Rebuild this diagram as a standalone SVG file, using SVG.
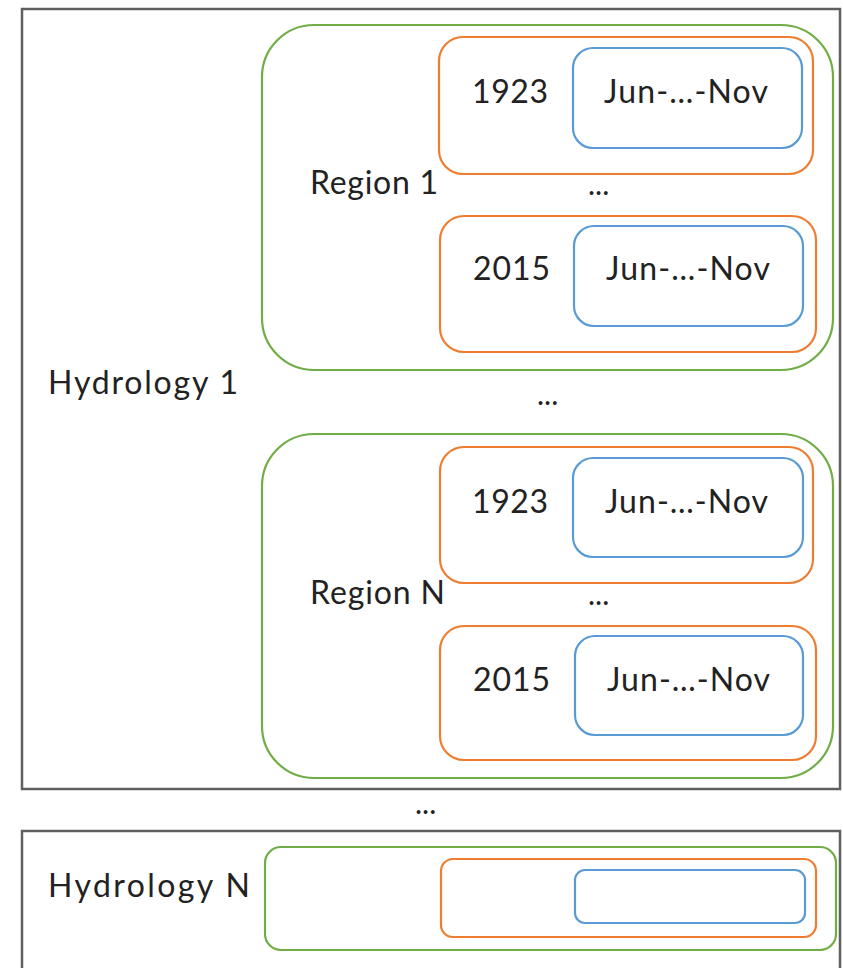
<svg xmlns="http://www.w3.org/2000/svg" width="843" height="968" viewBox="0 0 843 968">
  <style>
    .hydro { fill: #ffffff; stroke: #606060; stroke-width: 2.5; }
    .region { fill: none; stroke: #70ad47; stroke-width: 2.2; }
    .year { fill: none; stroke: #ed7d31; stroke-width: 2.2; }
    .season { fill: none; stroke: #5b9bd5; stroke-width: 2.2; }
    text { font-family: Lato, "Open Sans", "Liberation Sans", sans-serif; font-size: 32px; fill: #222222; }
    .dots { font-size: 30px; }
  </style>

  <!-- Hydrology 1 -->
  <g id="hydrology-1">
    <rect class="hydro" x="22" y="9" width="818" height="780"/>
    <text x="48" y="394" textLength="190">Hydrology 1</text>
  </g>

  <!-- Region 1 -->
  <g id="region-1">
    <rect class="region" x="262" y="25" width="571" height="345" rx="52" ry="52"/>
    <text x="310" y="194" textLength="128">Region 1</text>
    <text class="dots" x="588" y="195">...</text>
  </g>
  <g id="r1-year-1923">
    <rect class="year" x="439" y="37" width="374" height="137" rx="24" ry="24"/>
    <text x="472" y="103" textLength="76">1923</text>
  </g>
  <g id="r1-1923-season">
    <rect class="season" x="573" y="48" width="229" height="100" rx="20" ry="20"/>
    <text x="604" y="103" textLength="164">Jun-…-Nov</text>
  </g>
  <g id="r1-year-2015">
    <rect class="year" x="440" y="216" width="376" height="136" rx="24" ry="24"/>
    <text x="473" y="280" textLength="77">2015</text>
  </g>
  <g id="r1-2015-season">
    <rect class="season" x="574" y="226" width="229" height="100" rx="20" ry="20"/>
    <text x="606" y="280" textLength="164">Jun-…-Nov</text>
  </g>

  <text class="dots" x="537" y="405">...</text>

  <!-- Region N -->
  <g id="region-n">
    <rect class="region" x="262" y="434" width="571" height="344" rx="52" ry="52"/>
    <text x="310" y="604" textLength="135">Region N</text>
    <text class="dots" x="588" y="605">...</text>
  </g>
  <g id="rn-year-1923">
    <rect class="year" x="440" y="447" width="373" height="136" rx="24" ry="24"/>
    <text x="472" y="513" textLength="76">1923</text>
  </g>
  <g id="rn-1923-season">
    <rect class="season" x="573" y="458" width="230" height="99" rx="20" ry="20"/>
    <text x="605" y="513" textLength="163">Jun-…-Nov</text>
  </g>
  <g id="rn-year-2015">
    <rect class="year" x="440" y="626" width="376" height="134" rx="24" ry="24"/>
    <text x="473" y="691" textLength="77">2015</text>
  </g>
  <g id="rn-2015-season">
    <rect class="season" x="575" y="636" width="228" height="99" rx="20" ry="20"/>
    <text x="607" y="691" textLength="163">Jun-…-Nov</text>
  </g>

  <text class="dots" x="415" y="814">...</text>

  <!-- Hydrology N -->
  <g id="hydrology-n">
    <rect class="hydro" x="22" y="831" width="818" height="150"/>
    <text x="48" y="897" textLength="202">Hydrology  N</text>
  </g>
  <g id="hn-region">
    <rect class="region" x="265" y="847" width="571" height="103" rx="16" ry="16"/>
  </g>
  <g id="hn-year">
    <rect class="year" x="441" y="859" width="375" height="78" rx="12" ry="12"/>
  </g>
  <g id="hn-season">
    <rect class="season" x="575" y="870" width="230" height="53" rx="10" ry="10"/>
  </g>

  <!-- no connectors in this diagram -->
  <g id="connectors"/>
</svg>
